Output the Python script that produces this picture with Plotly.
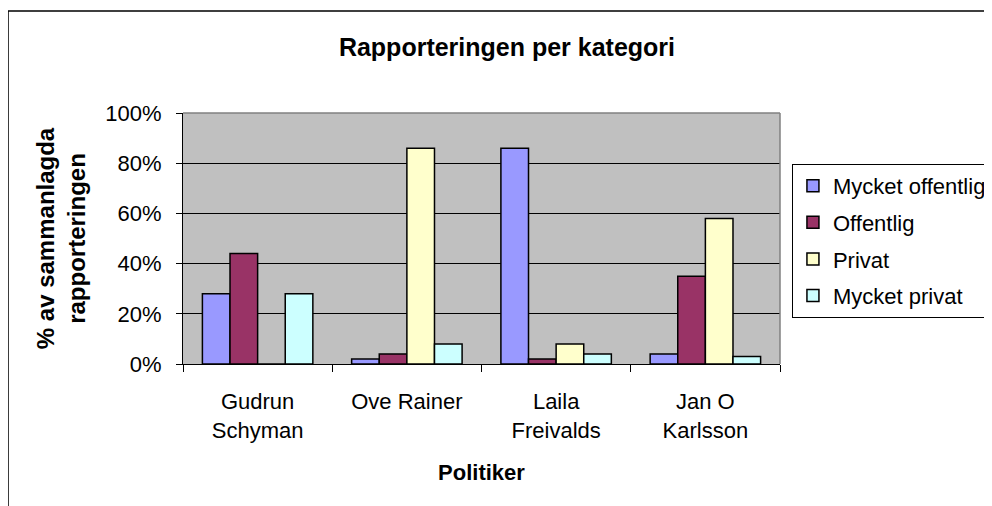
import plotly.graph_objects as go

politiker = ["Gudrun<br>Schyman", "Ove Rainer", "Laila<br>Freivalds", "Jan O<br>Karlsson"]
mycket_offentlig = [0.28, 0.02, 0.86, 0.04]
offentlig = [0.44, 0.04, 0.02, 0.35]
privat = [0.00, 0.86, 0.08, 0.58]
mycket_privat = [0.28, 0.08, 0.04, 0.03]

series = [
    ("Mycket offentlig", mycket_offentlig, "#9999FF"),
    ("Offentlig", offentlig, "#993366"),
    ("Privat", privat, "#FFFFCC"),
    ("Mycket privat", mycket_privat, "#CCFFFF"),
]

FONT = "Liberation Sans, Arial, sans-serif"

fig = go.Figure()
for i, (name, vals, color) in enumerate(series):
    fig.add_trace(go.Bar(
        x=politiker, y=vals, name=name, legendgroup=f"g{i}",
        marker=dict(color=color, line=dict(color="black", width=1.5)),
    ))

fig.update_layout(
    width=992, height=506,
    margin=dict(l=175, r=220, t=105, b=150, autoexpand=False),
    paper_bgcolor="white",
    plot_bgcolor="#C0C0C0",
    font=dict(family=FONT, size=22, color="black"),
    barmode="group", bargap=0.26, bargroupgap=0,
    title=dict(text="<b>Rapporteringen per kategori</b>", x=0.503, xanchor="center",
               y=0.923, yanchor="middle", font=dict(size=25)),
    legend=dict(x=1.02, xanchor="left", y=0.797, yanchor="top",
                bordercolor="black", borderwidth=1, bgcolor="white",
                tracegroupgap=5, font=dict(size=22)),
    showlegend=True,
)

fig.update_xaxes(
    showline=True, linecolor="black", linewidth=1,
    ticks="outside", ticklen=7, tickcolor="black", tickson="boundaries",
    ticklabelstandoff=18,
    showgrid=False,
    title=dict(text="<b>Politiker</b>", font=dict(size=22), standoff=22),
)
fig.update_yaxes(
    range=[0, 1], dtick=0.2, tickformat=".0%",
    showline=True, linecolor="black", linewidth=1,
    ticks="outside", ticklen=6, tickcolor="black",
    ticklabelstandoff=10,
    showgrid=True, gridcolor="black", gridwidth=1,
    zeroline=False,
    title=dict(text="<b>% av sammanlagda<br>rapporteringen</b>", font=dict(size=24), standoff=12),
)

# plot area border (top/right) and outer chart frame
fig.add_shape(type="line", xref="paper", yref="paper", x0=0, x1=1, y0=1, y1=1,
              line=dict(color="#808080", width=1.5))
fig.add_shape(type="line", xref="paper", yref="paper", x0=1, x1=1, y0=0, y1=1,
              line=dict(color="#808080", width=1.5))
fig.add_shape(type="rect", xref="paper", yref="paper",
              x0=-0.2931, x1=1.4, y0=-0.7, y1=1.4064,
              line=dict(color="black", width=1.5), layer="below")

fig.write_html("out.html")
